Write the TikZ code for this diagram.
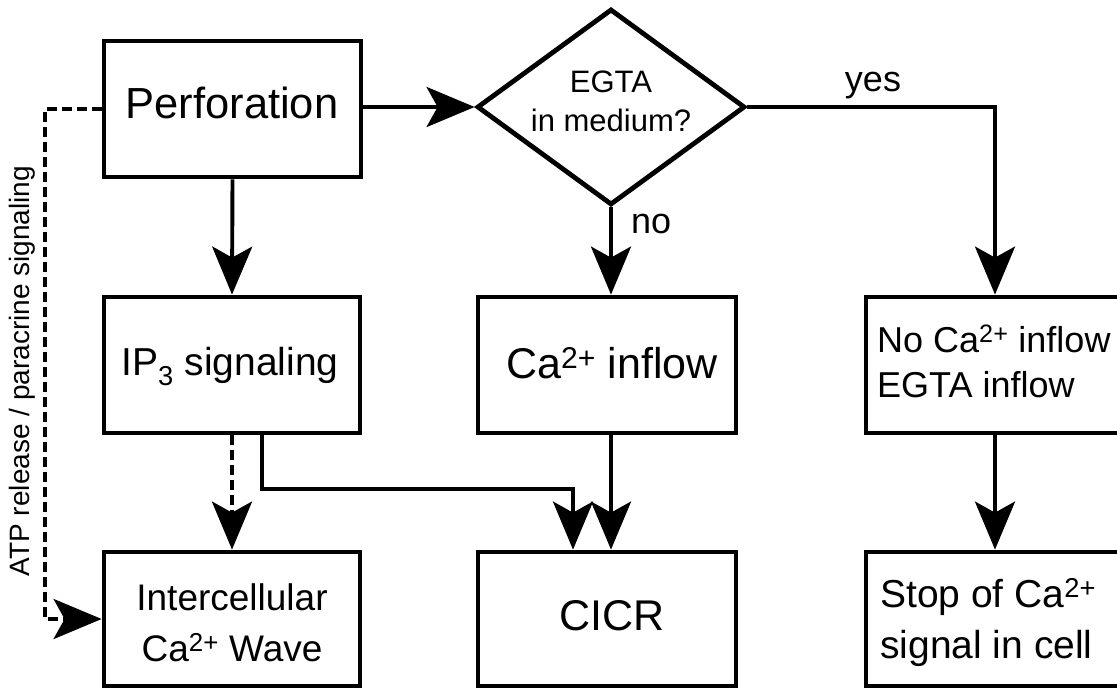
\documentclass[tikz,border=0pt]{standalone}
\usepackage{fontspec}
\setmainfont{Liberation Sans}
\usetikzlibrary{arrows.meta,shapes.geometric}
\begin{document}
\begin{tikzpicture}[x=1pt,y=-1pt,
  box/.style={draw,line width=4.8pt,inner sep=0pt,minimum width=#1,minimum height=136pt},
  dia/.style={draw,diamond,line width=4.8pt,inner sep=0pt,minimum width=268pt,minimum height=196pt},
  arr/.style={line width=3.9pt,-{Stealth[length=48pt,width=40pt,inset=11pt]}},
  darr/.style={arr,dash pattern=on 10pt off 5pt},
  lab/.style={anchor=base,inner sep=0pt},
  labw/.style={anchor=base west,inner sep=0pt},
  fs/.style={font=\fontsize{#1}{#1}\selectfont}]
\useasboundingbox (0,0) rectangle (1117,688);
\clip (0,0) rectangle (1117,688);
% boxes
\node[box=257pt] (perf) at (232.5,109) {};
\node[box=256pt] (ip3) at (232,365) {};
\node[box=256pt,minimum height=134pt] (wave) at (232,619) {};
\node[box=258pt] (ca) at (607,365) {};
\node[box=258pt,minimum height=134pt] (cicr) at (607,619) {};
\node[box=258pt] (noca) at (995,365) {};
\node[box=258pt,minimum height=134pt] (stop) at (995,619) {};
\node[dia] (dia) at (611,107) {};
% texts
\node[lab,fs=43.5] (tperf) at (232,118) {Perforation};
\node[lab,fs=39] (tip3) at (230,375) {IP\textsubscript{3} signaling};
\node[lab,fs=43] (tca) at (612,378) {Ca\textsuperscript{2+} inflow};
\node[lab,fs=43] (tcicr) at (612,630) {CICR};
\node[lab,fs=37] (twave1) at (232,610) {Intercellular};
\node[lab,fs=37] (twave2) at (232,661) {Ca\textsuperscript{2+} Wave};
\node[labw,fs=36] (tnoca1) at (877,352) {No Ca\textsuperscript{2+} inflow};
\node[labw,fs=36] (tnoca2) at (877,397) {EGTA inflow};
\node[labw,fs=39] (tstop1) at (880,607) {Stop of Ca\textsuperscript{2+}};
\node[labw,fs=39] (tstop2) at (880,658) {signal in cell};
\node[lab,fs=31] (tegta1) at (611,92) {EGTA};
\node[lab,fs=31] (tegta2) at (611,131) {in medium?};
\node[lab,fs=36] (tyes) at (873,91) {yes};
\node[labw,fs=36] (tno) at (631,233) {no};
\node[lab,fs=28,rotate=90] (tatp) at (30,371) {ATP release / paracrine signaling};
% helper coordinates
\coordinate (atp) at (45,0);
\coordinate (j1) at (262,489);
\coordinate (j2) at (573,489);
% connectors
\draw[arr] (perf.east |- dia.west) -- (dia.west);
\draw[arr] (perf.south) -- (ip3.north);
\draw[arr] (dia.south) -- (dia.south |- ca.north);
\draw[arr] (dia.east) -| (noca.north);
\draw[darr] (ip3.south) -- (wave.north);
\draw[arr] (ip3.south -| j1) -- (j1) -- (j2) -- (j2 |- cicr.north);
\draw[arr] (ca.south -| dia.south) -- (cicr.north -| dia.south);
\draw[arr] (noca.south) -- (stop.north);
\draw[darr] (perf.west) -- (perf.west -| atp) |- (wave.west);
\end{tikzpicture}
\end{document}
